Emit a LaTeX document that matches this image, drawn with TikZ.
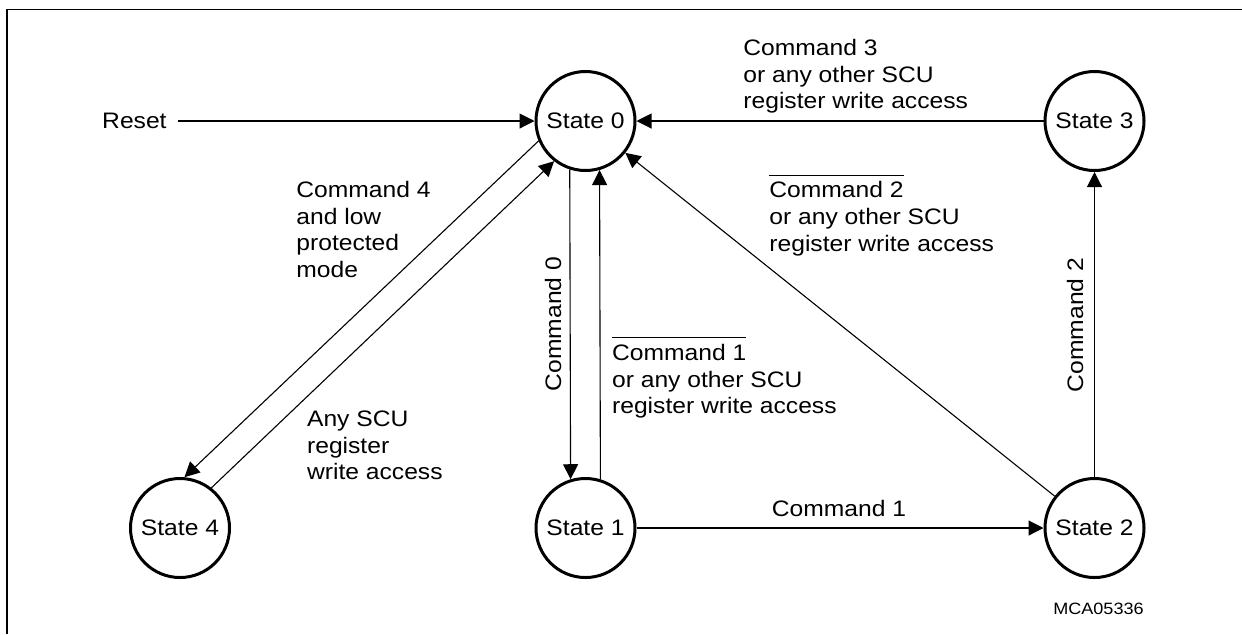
\documentclass[tikz,border=0pt]{standalone}
\usepackage{fontspec}
\setmainfont{Liberation Sans}[FakeStretch=1.1]
\usetikzlibrary{arrows.meta}
\newcommand\ovl[1]{\vbox{\hrule height 0.5pt\kern 2.8pt\hbox{#1}}}
\tikzset{
  state/.style={circle, draw, line width=1.5pt, minimum size=49.5pt, inner sep=0pt},
  conn/.style={line width=0.55pt, -{Triangle[length=7.5pt,width=7.5pt]}},
  lbl/.style={align=left, inner sep=0pt, anchor=north west},
  plain/.style={inner sep=0pt},
  frame/.style={line width=0.65pt}
}
\begin{document}
\begin{tikzpicture}[x=0.5pt,y=-0.5pt,font=\fontsize{11.2pt}{13.4pt}\selectfont]
\useasboundingbox (0,0) rectangle (1242,634);
\draw[frame] (7,634) -- (7,9.3) -- (1242,9.3);
% states
\node[state] (S0) at (585.5,121) {State 0};
\node[state] (S1) at (585.5,528) {State 1};
\node[state] (S2) at (1094.5,528) {State 2};
\node[state] (S3) at (1094.5,121) {State 3};
\node[state] (S4) at (180,528) {State 4};
% reset
\node[plain, inner xsep=5.5pt, anchor=east] (reset) at (178,121) {Reset};
% labels
\node[lbl] (l3) at (743,38.6) {Command 3\\or any other SCU\\register write access};
\node[lbl] (l2n) at (769,174.5) {\ovl{Command 2}\\or any other SCU\\register write access};
\node[lbl] (l1n) at (611.7,337) {\ovl{Command 1}\\or any other SCU\\register write access};
\node[lbl] (l4) at (296,180.6) {Command 4\\and low\\protected\\mode};
\node[lbl] (lany) at (306.7,410.3) {Any SCU\\register\\write access};
\node[plain, anchor=base] (l1) at (839,516.7) {Command 1};
\node[plain, rotate=90, anchor=base] (l0) at (561,324) {Command 0};
\node[plain, rotate=90, anchor=base] (l2) at (1083,325) {Command 2};
\node[plain, anchor=base east, font=\fontsize{8.2pt}{10pt}\selectfont] (id) at (1144,614) {MCA05336};
% connectors
\draw[conn] (reset.east) -- (S0.west);
\draw[conn] (S3.west) -- (S0.east);
\draw[conn] (S0.252.3) -- (S1.107.7);
\draw[conn] (S1.73.5) -- (S0.286.5);
\draw[conn] (S1.east) -- (S2.west);
\draw[conn] (S2.north) -- (S3.south);
\draw[conn] (S2) -- (S0);
\draw[conn] (S0.203) -- (S4.85);
\draw[conn] (S4.52) -- (S0.232);
\end{tikzpicture}
\end{document}
